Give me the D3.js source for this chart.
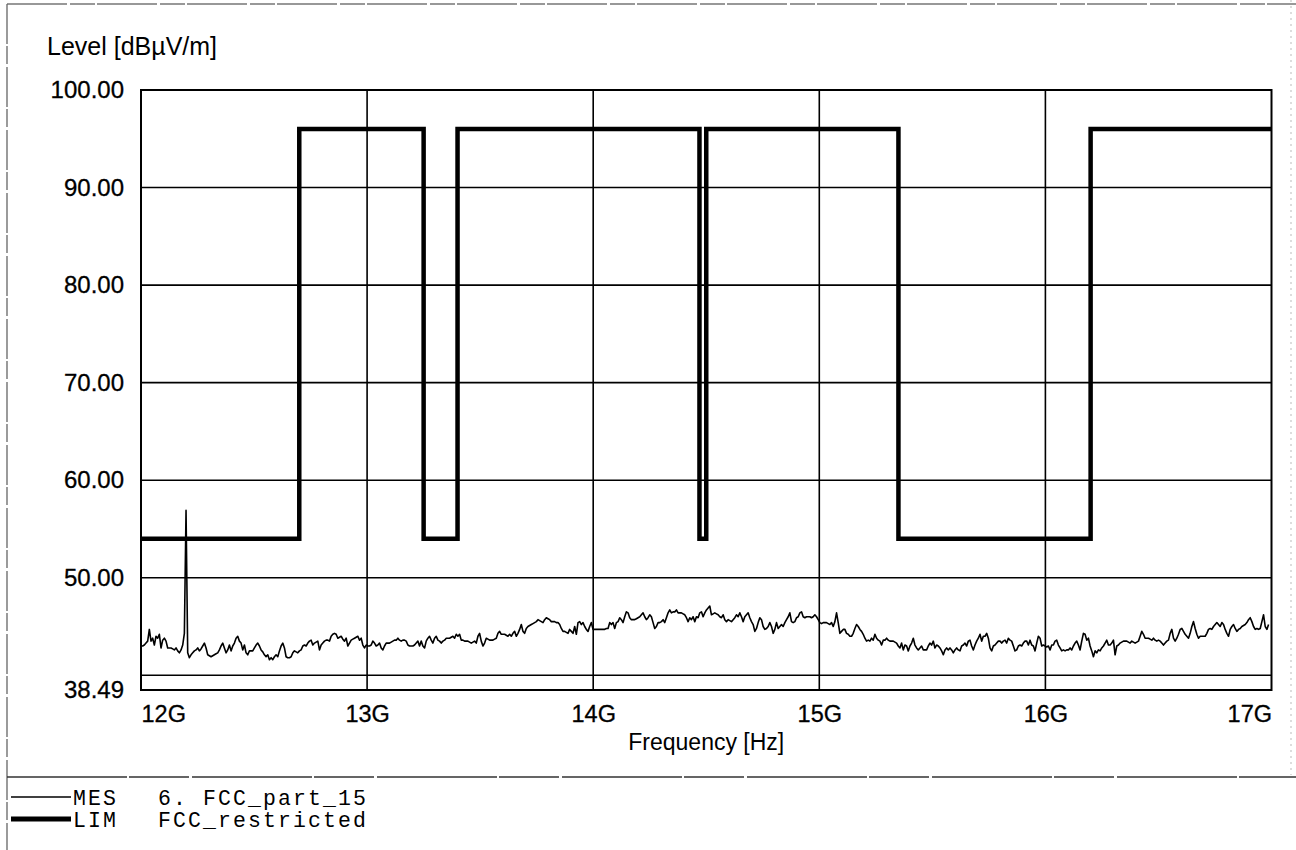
<!DOCTYPE html>
<html><head><meta charset="utf-8">
<script src="https://cdn.jsdelivr.net/npm/d3@7"></script>
<style>
html,body{margin:0;padding:0;background:#fff;}
svg{display:block;}
</style></head><body>
<svg id="chart" width="1296" height="850"></svg>
<script>
// ---------- data ----------
const xTickValuesGHz = [12, 13, 14, 15, 16, 17];
const xTickLabels = ["12G", "13G", "14G", "15G", "16G", "17G"];
const yTickValues = [38.49, 50, 60, 70, 80, 90, 100];
const yTickLabels = ["38.49", "50.00", "60.00", "70.00", "80.00", "90.00", "100.00"];
const yGridValues = [40, 50, 60, 70, 80, 90];
const xGridValues = [13, 14, 15, 16];

// FCC restricted-band limit (LIM)
const limitFreqGHz = [12, 12.7, 12.7, 13.25, 13.25, 13.4, 13.4, 14.47, 14.47, 14.5, 14.5, 15.35, 15.35, 16.2, 16.2, 17];
const limitLevel   = [54, 54,   96,   96,    54,    54,   96,   96,    54,    54,   96,   96,    54,    54,   96,  96];

// Measurement sweep (MES): sweep start / stop and the read levels (dBµV/m)
const sweepStartGHz = 12.0;
const sweepStopGHz = 16.987;
const mesLevel = [
43.0,43.0,43.1,43.3,43.5,44.7,43.5,43.8,43.1,44.0,
43.8,44.2,42.8,43.6,43.8,43.5,42.8,42.8,42.8,42.7,
42.6,42.8,42.5,42.3,42.6,43.1,44.3,56.9,42.3,41.8,
42.1,42.3,42.5,42.6,42.8,42.5,42.7,43.0,43.3,42.8,
42.1,42.0,41.9,42.0,42.1,42.2,42.3,42.6,43.0,43.3,
42.8,42.3,42.6,43.1,42.5,43.0,43.3,43.8,44.0,43.5,
43.3,42.6,43.1,42.3,42.1,42.5,42.5,42.5,42.8,43.1,
43.3,43.0,42.6,42.4,42.1,41.9,42.1,41.6,41.8,41.6,
41.9,42.1,41.9,42.5,43.0,43.3,42.8,41.9,41.8,41.8,
41.9,42.3,42.5,42.4,42.3,42.5,42.6,43.0,43.1,43.0,
43.3,43.5,43.6,43.1,43.3,43.4,43.5,42.6,43.1,43.3,
43.5,43.6,43.6,43.5,44.0,44.2,44.3,44.2,43.8,43.9,
44.0,43.7,43.5,43.8,43.0,43.3,43.6,43.7,43.8,43.9,
44.0,43.6,43.8,43.1,42.8,43.1,43.0,
43.0,43.1,43.5,43.3,43.0,43.1,43.3,42.8,42.6,43.0,
43.3,43.3,43.3,43.4,43.5,43.6,43.6,43.8,43.6,43.5,
43.6,43.6,43.5,43.1,43.0,43.0,43.0,43.1,43.3,43.5,
43.0,43.5,43.0,42.8,43.5,43.8,44.0,43.6,43.3,43.8,
44.0,43.6,43.5,43.3,43.5,43.6,43.8,43.8,43.8,43.9,
44.0,43.8,44.2,44.0,44.2,43.6,43.6,43.5,43.5,43.5,
43.4,43.3,43.4,43.5,43.3,44.0,44.3,43.5,43.0,43.3,
43.8,43.7,43.6,43.6,43.6,43.7,43.8,44.3,44.5,44.2,
44.2,44.2,44.1,44.0,44.2,44.0,44.3,44.5,44.0,44.3,
44.7,45.2,44.5,44.3,44.8,45.0,45.1,45.2,45.3,45.4,
45.5,45.7,45.6,45.5,45.4,45.7,45.9,45.8,45.7,45.5,
45.5,45.5,45.4,45.4,45.2,44.8,44.5,44.5,44.4,44.3,
44.7,44.5,44.3,45.0,44.2,45.4,45.5,45.2,45.4,45.0,
44.7,44.5,45.0,45.4,44.7,44.7,
44.7,44.7,44.7,44.7,44.7,44.7,44.8,44.8,45.4,45.2,
45.4,44.8,45.4,45.5,45.9,45.7,45.4,46.0,46.5,46.4,
45.9,45.7,45.7,45.7,45.8,45.9,46.0,46.2,46.4,46.0,
45.7,45.9,46.2,46.0,45.4,44.8,45.0,45.4,45.4,45.5,
45.7,45.4,45.9,46.4,46.7,46.4,46.5,46.5,46.7,46.4,
46.4,46.4,46.3,46.2,45.9,45.5,45.9,45.7,46.0,45.5,
46.0,45.9,46.4,46.5,46.0,46.4,46.7,46.9,47.1,46.2,
46.3,46.4,46.3,46.2,46.0,45.9,46.2,45.7,45.5,45.7,
45.6,45.5,45.7,45.9,46.2,46.0,46.4,46.0,45.5,46.0,
46.2,46.4,45.9,45.5,45.2,44.5,44.8,45.4,45.9,45.7,
45.0,44.7,44.8,45.0,45.4,45.0,44.3,44.7,45.4,44.8,
45.0,45.2,45.0,45.4,45.7,46.0,46.4,45.5,45.4,45.5,
45.9,46.0,46.4,46.5,46.0,45.9,46.0,46.0,46.0,45.9,
46.0,46.2,46.0,45.7,45.4,
45.3,45.4,45.4,45.4,45.3,45.2,45.4,45.0,45.5,46.4,
45.4,44.3,44.5,44.7,44.7,44.3,44.2,44.0,44.0,44.3,
44.8,45.2,45.0,44.7,44.5,44.2,43.8,43.5,43.6,43.5,
43.8,43.6,44.2,43.8,43.6,43.5,43.1,43.6,43.6,43.8,
43.6,43.5,43.5,43.5,43.4,43.3,43.0,42.8,43.3,42.6,
43.1,43.0,42.5,43.0,43.3,43.8,43.1,42.8,42.6,42.8,
43.0,42.6,42.6,42.6,43.0,43.3,43.1,43.5,42.8,43.1,
43.0,42.8,42.5,42.1,42.6,42.8,42.6,42.8,42.6,42.3,
42.6,42.8,42.6,42.5,43.0,43.1,43.3,43.0,43.5,43.6,
43.0,42.6,43.1,43.5,43.8,44.2,43.5,44.0,44.0,44.3,
43.8,42.8,42.5,43.0,43.1,43.3,43.5,43.5,43.3,43.5,
43.6,43.3,43.8,43.6,43.5,43.0,42.5,42.6,43.0,43.1,
43.0,43.3,43.5,43.5,43.1,43.6,43.1,43.0,42.5,43.3,
44.0,43.8,43.0,43.1,43.0,
42.9,43.0,42.6,43.1,43.1,43.5,43.6,43.1,42.8,42.5,
42.6,42.5,42.6,42.6,42.8,42.6,43.0,43.3,43.5,43.1,
42.6,43.5,44.3,44.2,43.6,43.8,43.0,42.5,41.9,42.5,
42.3,42.6,42.5,42.8,43.0,43.3,43.6,43.1,43.1,43.3,
43.6,42.1,43.0,43.1,43.3,43.4,43.5,43.5,43.5,43.4,
43.3,43.5,43.4,43.3,43.4,43.5,44.0,44.5,44.2,43.8,
43.8,43.8,43.7,43.6,43.8,43.6,43.5,43.6,43.5,43.3,
43.1,43.3,43.5,43.6,44.3,44.7,43.8,43.5,43.8,44.2,
44.7,44.8,44.5,44.2,44.0,43.8,44.3,45.0,45.5,44.8,
44.2,43.8,44.0,44.0,44.0,44.0,44.3,44.7,44.8,44.7,
45.0,45.2,45.4,45.2,45.0,45.4,45.2,44.7,44.3,44.0,
44.7,45.0,45.2,44.8,44.5,44.7,44.8,45.0,45.1,45.2,
45.4,45.7,45.9,45.5,45.0,44.7,44.8,44.7,44.8,45.5,
46.2,45.0,44.7,45.2
];

const legendCodes = ["MES", "LIM"];
const legendNames = ["6. FCC_part_15", "FCC_restricted"];
const yAxisTitle = "Level [dBµV/m]";
const xAxisTitle = "Frequency [Hz]";

// ---------- layout ----------
const W = 1296, H = 850;
const plot = {left: 141, right: 1271.5, top: 90, bottom: 690};
const sansFont = "'Liberation Sans', Arial, Helvetica, sans-serif";
const monoFont = "'Liberation Mono', 'Courier New', Courier, monospace";

const svg = d3.select("#chart");
svg.append("rect").attr("width", W).attr("height", H).attr("fill", "#fff");

const x = d3.scaleLinear().domain([12, 17]).range([plot.left, plot.right]);
const y = d3.scaleLinear().domain([38.49, 100]).range([plot.bottom, plot.top]);

// outer page frame (scanned look)
const frame = svg.append("g").attr("fill", "none");
frame.append("line").attr("x1", 7).attr("x2", W).attr("y1", 4).attr("y2", 4)
  .attr("stroke", "#777").attr("stroke-width", 1.3).attr("stroke-dasharray", "60,3,25,2");
frame.append("line").attr("x1", 7).attr("x2", 7).attr("y1", 4).attr("y2", H)
  .attr("stroke", "#666").attr("stroke-width", 1.3).attr("stroke-dasharray", "40,2,18,3");
frame.append("line").attr("x1", 1291).attr("x2", 1291).attr("y1", 0).attr("y2", 775)
  .attr("stroke", "#bbb").attr("stroke-width", 1).attr("stroke-dasharray", "2,4");
frame.append("line").attr("x1", 7).attr("x2", W).attr("y1", 777).attr("y2", 777)
  .attr("stroke", "#333").attr("stroke-width", 1.5).attr("stroke-dasharray", "120,2,60,3");

// gridlines
const grid = svg.append("g");
grid.selectAll("line.h").data(yGridValues).join("line").attr("class", "h")
  .attr("x1", plot.left).attr("x2", plot.right)
  .attr("y1", d => y(d)).attr("y2", d => y(d))
  .attr("stroke", "#000").attr("stroke-width", 1.6);
grid.selectAll("line.v").data(xGridValues).join("line").attr("class", "v")
  .attr("x1", d => x(d)).attr("x2", d => x(d))
  .attr("y1", plot.top).attr("y2", plot.bottom)
  .attr("stroke", "#000").attr("stroke-width", 1.6);

// plot frame
svg.append("rect").attr("x", plot.left).attr("y", plot.top)
  .attr("width", plot.right - plot.left).attr("height", plot.bottom - plot.top)
  .attr("fill", "none").attr("stroke", "#000").attr("stroke-width", 2);

// y axis
const yAxis = svg.append("g").attr("transform", `translate(${plot.left},0)`)
  .call(d3.axisLeft(y).tickValues(yTickValues).tickFormat((d, i) => yTickLabels[i]).tickSize(0).tickPadding(17));
yAxis.select(".domain").remove();
yAxis.selectAll("text").attr("font-family", sansFont).attr("font-size", 24).attr("fill", "#000")
  .attr("stroke", "#000").attr("stroke-width", 0.3);

// x axis
const xAxis = svg.append("g").attr("transform", `translate(0,${plot.bottom})`)
  .call(d3.axisBottom(x).tickValues(xTickValuesGHz).tickFormat((d, i) => xTickLabels[i]).tickSize(0).tickPadding(15));
xAxis.select(".domain").remove();
xAxis.selectAll("text").attr("font-family", sansFont).attr("font-size", 23.5).attr("fill", "#000")
  .attr("stroke", "#000").attr("stroke-width", 0.3)
  .attr("text-anchor", (d, i) => i === 0 ? "start" : (i === xTickValuesGHz.length - 1 ? "end" : "middle"));

// titles
svg.append("text").attr("x", 47).attr("y", 55).text(yAxisTitle)
  .attr("font-family", sansFont).attr("font-size", 25).attr("fill", "#000");
svg.append("text").attr("x", (plot.left + plot.right) / 2).attr("y", 750).attr("text-anchor", "middle")
  .text(xAxisTitle).attr("font-family", sansFont).attr("font-size", 23).attr("fill", "#000");

// limit line
const limitData = limitFreqGHz.map((f, i) => ({f, v: limitLevel[i]}));
svg.append("path").datum(limitData)
  .attr("d", d3.line().x(d => x(d.f)).y(d => y(d.v)))
  .attr("fill", "none").attr("stroke", "#000").attr("stroke-width", 4.5)
  .attr("stroke-linejoin", "miter").attr("stroke-linecap", "butt");

// measurement trace
const n = mesLevel.length;
const mesData = mesLevel.map((v, i) => ({f: sweepStartGHz + i * (sweepStopGHz - sweepStartGHz) / (n - 1), v}));
svg.append("path").datum(mesData)
  .attr("d", d3.line().x(d => x(d.f)).y(d => y(d.v)))
  .attr("fill", "none").attr("stroke", "#000").attr("stroke-width", 1.6)
  .attr("stroke-linejoin", "round");

// legend
const legendY = [797, 819];
const legendW = [1.4, 5];
const lg = svg.append("g");
legendCodes.forEach((code, i) => {
  lg.append("line").attr("x1", 11).attr("x2", 71).attr("y1", legendY[i]).attr("y2", legendY[i])
    .attr("stroke", "#000").attr("stroke-width", legendW[i]);
  lg.append("text").attr("x", 73).attr("y", legendY[i]).attr("dy", "0.36em").text(code)
    .attr("font-family", monoFont).attr("font-size", 21.5).attr("letter-spacing", 2.1).attr("fill", "#000");
  lg.append("text").attr("x", 158).attr("y", legendY[i]).attr("dy", "0.36em").text(legendNames[i])
    .attr("font-family", monoFont).attr("font-size", 21.5).attr("letter-spacing", 2.1).attr("fill", "#000");
});
</script>
</body></html>
